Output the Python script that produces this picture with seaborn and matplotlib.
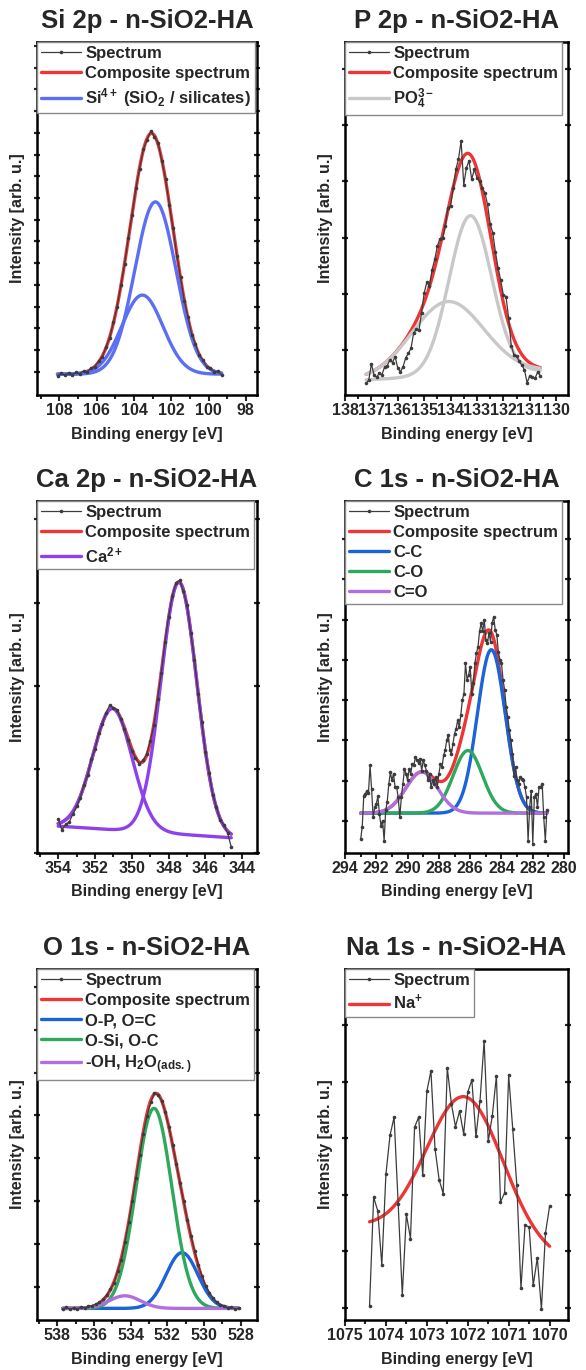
import numpy as np
import matplotlib
matplotlib.use("Agg")
import matplotlib.pyplot as plt
import seaborn as sns
from matplotlib.ticker import MultipleLocator, FixedLocator

# ---------------- data (intensity in % of the axis height) ----------------
# Si 2p
si_energy = np.round(np.arange(108.1, 99.25, -0.2), 2)
si_counts = [5.4, 6.2, 5.6, 6.3, 5.8, 6.4, 6.0, 6.9, 6.5, 7.6,
             8.0, 9.6, 10.8, 13.6, 16.2, 20.7, 25.0, 31.2, 37.1, 44.6,
             51.1, 58.5, 64.1, 69.6, 72.3, 74.8, 73.2, 71.4, 66.2, 61.1,
             53.8, 47.2, 39.4, 33.3, 26.6, 22.0, 17.1, 14.4, 11.2, 9.9,
             8.0, 7.6, 6.5, 6.7, 5.8]
si_centers = [102.85, 103.55]
si_heights = [48.8, 22.4]
si_fwhm = [2.6, 2.6]
si_base = [5.9, 5.9]

# P 2p
p_energy = np.round(np.arange(137.2, 130.55, -0.1), 2)
p_counts = [3.3, 4.2, 8.8, 5.7, 5.0, 6.2, 5.8, 7.9, 8.3, 9.9,
            9.2, 10.9, 7.6, 6.6, 8.0, 10.5, 11.8, 13.2, 17.5, 18.6,
            18.3, 23.2, 28.9, 31.9, 30.8, 35.5, 38.4, 42.2, 44.3, 44.5,
            47.8, 53.1, 53.5, 58.7, 63.9, 66.8, 72.0, 59.5, 64.4, 66.3,
            61.1, 63.9, 61.6, 60.5, 58.7, 57.3, 54.0, 48.5, 45.9, 40.5,
            36.0, 32.5, 28.4, 27.9, 21.8, 14.0, 11.4, 11.1, 9.5, 8.5,
            7.1, 3.5, 5.4, 5.0, 4.7, 6.5, 5.5]
p_centers = [133.25, 134.1]
p_heights = [45.0, 21.0]
p_fwhm = [1.9, 3.2]
p_base = [4.3, 6.8]

# Ca 2p
ca_energy = np.round(np.arange(354.0, 344.55, -0.2), 2)
ca_counts = [9.6, 6.4, 8.0, 8.7, 10.9, 13.1, 15.6, 19.3, 22.0, 26.5,
             29.5, 33.9, 36.6, 39.8, 41.9, 41.2, 40.6, 38.0, 35.1, 32.0,
             29.0, 26.8, 25.3, 26.2, 27.9, 31.6, 36.2, 43.8, 51.0, 59.8,
             67.1, 73.0, 76.6, 77.4, 74.4, 70.3, 62.5, 54.9, 45.2, 37.1,
             28.5, 22.6, 16.3, 12.9, 9.2, 7.9, 5.6, 1.6]
ca_centers = [351.05, 347.44]
ca_heights = [34.5, 71.7]
ca_fwhm = [2.5, 2.3]
ca_base = [7.5, 4.2]

# C 1s
c_energy = np.round(np.arange(293.0, 281.05, -0.1), 2)
c_counts = [3.8, 7.2, 16.2, 16.7, 17.6, 17.0, 24.8, 18.0, 10.0, 12.9,
            13.8, 16.0, 11.0, 7.6, 9.1, 3.4, 12.0, 14.5, 19.5, 22.8,
            20.5, 22.4, 18.6, 18.6, 15.7, 10.0, 15.7, 19.5, 23.8, 22.4,
            20.5, 23.8, 22.4, 25.2, 24.8, 27.1, 26.2, 25.5, 26.7, 23.3,
            26.2, 24.8, 23.3, 20.5, 22.4, 18.6, 20.5, 19.5, 21.4, 18.6,
            22.4, 25.2, 24.3, 27.6, 29.1, 31.9, 33.4, 29.1, 28.1, 31.0,
            33.8, 35.2, 37.6, 35.7, 39.1, 43.4, 45.2, 53.8, 49.1, 50.5,
            52.9, 45.2, 48.1, 53.8, 56.7, 58.6, 63.0, 65.2, 62.9, 66.2,
            60.5, 59.5, 62.4, 60.0, 65.2, 67.1, 63.3, 62.0, 57.0, 54.8,
            53.8, 49.1, 46.2, 41.4, 38.6, 34.8, 31.9, 28.1, 21.9, 24.3,
            20.5, 19.5, 21.4, 21.0, 20.5, 18.6, 15.7, 3.4, 12.9, 17.6,
            2.5, 15.7, 16.7, 12.9, 18.6, 18.6, 19.5, 10.0, 3.4, 12.0]
c_centers = [284.65, 286.15, 289.1]
c_heights = [46.5, 17.8, 11.7]
c_fwhm = [2.1, 2.2, 2.4]
c_base = [11.2, 11.2]

# O 1s
o_energy = np.round(np.arange(537.7, 528.05, -0.2), 2)
o_counts = [3.1, 3.6, 3.0, 3.5, 3.2, 3.7, 3.4, 3.9, 4.1, 4.5,
            5.0, 5.9, 7.1, 8.8, 10.5, 14.0, 17.2, 22.3, 27.8, 33.9,
            40.4, 46.9, 53.1, 58.2, 62.0, 64.6, 64.1, 62.5, 59.2, 54.9,
            49.8, 44.5, 39.0, 33.8, 28.6, 23.9, 19.6, 15.8, 12.4, 9.8,
            7.8, 6.2, 5.1, 4.3, 3.9, 3.4, 3.6, 3.2, 3.4]
o_centers = [531.19, 532.72, 534.31]
o_heights = [15.9, 57.0, 3.6]
o_fwhm = [2.04, 2.3, 2.0]
o_base = [3.3, 3.3]

# Na 1s
na_energy = np.round(np.arange(1074.4, 1069.95, -0.1), 2)
na_counts = [4.0, 35.0, 31.1, 15.6, 41.5, 52.6, 57.8, 33.0, 7.1, 30.1,
             23.2, 54.9, 57.8, 41.2, 65.1, 71.0, 48.8, 40.0, 36.0, 71.8,
             61.6, 55.1, 59.5, 53.0, 64.9, 68.4, 52.3, 62.5, 79.5, 50.9,
             58.2, 69.5, 33.6, 36.2, 69.8, 54.3, 38.4, 9.0, 27.0, 26.5,
             9.9, 17.7, 3.1, 24.8, 32.4]
na_centers = [1072.07]
na_heights = [42.1]
na_fwhm = [2.2]
na_base = [26.1, 17.4]

# ---------------- style ----------------
SPEC = "#3c3c3c"
RED = "#ee3535"
sns.set_theme(style="ticks")
plt.rcParams["font.family"] = ["Liberation Sans", "DejaVu Sans"]
plt.rcParams["font.weight"] = "bold"
plt.rcParams["mathtext.fontset"] = "custom"
plt.rcParams["mathtext.rm"] = "Liberation Sans:bold"
plt.rcParams["mathtext.it"] = "Liberation Sans:bold"
plt.rcParams["mathtext.bf"] = "Liberation Sans:bold"
plt.rcParams["mathtext.default"] = "rm"


def gauss(x, c, h, w):
    return h * np.exp(-4 * np.log(2) * (x - c) ** 2 / w ** 2)


def panel(ax, title, energy, counts, centers, heights, fwhm, base,
          colors, labels, xlim, xmajor, xminor, yticks, composite=True):
    grid = np.linspace(energy[0], energy[-1], 500)
    bl = base[0] + (base[1] - base[0]) * (grid - energy[0]) / (energy[-1] - energy[0])
    comps = [gauss(grid, c, h, w) for c, h, w in zip(centers, heights, fwhm)]

    sns.lineplot(x=energy, y=counts, ax=ax, color=SPEC, linewidth=0.9,
                 marker="o", markersize=2.6, markeredgewidth=0,
                 label="Spectrum", sort=False, estimator=None, zorder=6)
    if composite:
        sns.lineplot(x=grid, y=bl + np.sum(comps, axis=0), ax=ax, color=RED,
                     linewidth=2.4, label="Composite spectrum", sort=False,
                     estimator=None, zorder=3)
    for comp, col, lab in zip(comps, colors, labels):
        sns.lineplot(x=grid, y=bl + comp, ax=ax, color=col, linewidth=2.4,
                     label=lab, sort=False, estimator=None, zorder=4)

    ax.set_xlim(xlim)
    ax.set_ylim(0, 100)
    ax.xaxis.set_major_locator(MultipleLocator(xmajor))
    ax.xaxis.set_minor_locator(MultipleLocator(xminor))
    ax.yaxis.set_major_locator(FixedLocator(yticks))
    ax.tick_params(axis="x", which="both", direction="out", bottom=True,
                   top=False, width=1.5, labelsize=11.5, pad=2)
    ax.tick_params(axis="x", which="major", length=4)
    ax.tick_params(axis="x", which="minor", length=3)
    ax.tick_params(axis="y", which="major", left=True, right=True,
                   direction="inout", length=5, width=1.6, labelleft=False)
    for sp in ax.spines.values():
        sp.set_linewidth(1.8)
        sp.set_color("black")
    ax.set_title(title, fontsize=18.5, fontweight="bold", pad=10)
    ax.set_xlabel("Binding energy [eV]", fontsize=11.5, fontweight="bold", labelpad=6)
    ax.set_ylabel("Intensity [arb. u.]", fontsize=11.5, fontweight="bold", labelpad=6)
    leg = ax.legend(loc="upper left", borderaxespad=0, frameon=True,
                    fancybox=False, edgecolor="#8a8a8a", framealpha=1,
                    prop=dict(family="Liberation Sans", weight="bold", size=12),
                    handlelength=2.4, handletextpad=0.25, labelspacing=0.3,
                    borderpad=0.25, numpoints=1)
    leg.get_frame().set_linewidth(1.0)


fig = plt.figure(figsize=(5.86, 13.70), dpi=100)
W, H = 586, 1370
lefts = [37, 345]
widths = [220, 223]
rows = [(42, 395), (501, 852.5), (969, 1320)]


def rect(col, row):
    top, bot = rows[row]
    return [lefts[col] / W, 1 - bot / H, widths[col] / W, (bot - top) / H]


ax = fig.add_axes(rect(0, 0))
panel(ax, "Si 2p - n-SiO2-HA", si_energy, si_counts, si_centers, si_heights,
      si_fwhm, si_base, ["#5a6ff3"] * 2,
      [r"Si$^{4+}$ (SiO$_2$ / silicates)", "_nolegend_"],
      (109.2, 97.4), 2, 1, np.arange(6.6, 99, 6.15))

ax = fig.add_axes(rect(1, 0))
panel(ax, "P 2p - n-SiO2-HA", p_energy, p_counts, p_centers, p_heights,
      p_fwhm, p_base, ["#c8c8c8"] * 2, [r"PO$_4^{3-}$", "_nolegend_"],
      (138.0, 129.55), 1, 0.5, [12.8, 28.7, 44.6, 60.5, 76.4, 92.3])

ax = fig.add_axes(rect(0, 1))
panel(ax, "Ca 2p - n-SiO2-HA", ca_energy, ca_counts, ca_centers, ca_heights,
      ca_fwhm, ca_base, ["#8c41ec"] * 2, [r"Ca$^{2+}$", "_nolegend_"],
      (355.15, 343.2), 2, 1, [0, 23.7, 47.4, 71.1, 94.8])

ax = fig.add_axes(rect(1, 1))
panel(ax, "C 1s - n-SiO2-HA", c_energy, c_counts, c_centers, c_heights,
      c_fwhm, c_base, ["#1b63d8", "#2ea85c", "#b06fe0"], ["C-C", "C-O", "C=O"],
      (294.0, 279.75), 2, 1, np.arange(9.0, 99, 11.45))

ax = fig.add_axes(rect(0, 2))
panel(ax, "O 1s - n-SiO2-HA", o_energy, o_counts, o_centers, o_heights,
      o_fwhm, o_base, ["#1b63d8", "#2ea85c", "#b06fe0"],
      ["O-P, O=C", "O-Si, O-C", r"-OH, H$_2$O$_{(ads.)}$"],
      (539.1, 527.1), 2, 1, np.arange(9.5, 99, 12.2))

ax = fig.add_axes(rect(1, 2))
panel(ax, "Na 1s - n-SiO2-HA", na_energy, na_counts, na_centers, na_heights,
      na_fwhm, na_base, [RED], [r"Na$^{+}$"],
      (1075.0, 1069.55), 1, 0.5, np.arange(3.5, 99, 16.1), composite=False)

fig.savefig("out.png", dpi=100)
